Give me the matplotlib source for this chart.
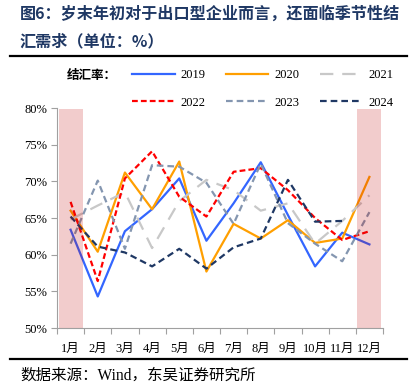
import matplotlib.pyplot as plt
import numpy as np

months = ['1月', '2月', '3月', '4月', '5月', '6月', '7月', '8月', '9月', '10月', '11月', '12月']
y2019 = [63.4, 54.3, 63.2, 66.2, 70.4, 61.9, 67.0, 72.6, 65.4, 58.4, 63.0, 61.4]
y2020 = [66.0, 60.4, 71.2, 66.2, 72.7, 57.7, 64.2, 62.2, 64.7, 61.6, 62.2, 70.6]
y2021 = [64.8, 66.7, 68.5, 60.9, 67.3, 70.2, 68.8, 66.0, 67.0, 61.5, 64.6, 68.1]
y2022 = [67.2, 56.4, 70.4, 74.1, 67.9, 65.2, 71.3, 71.8, 68.8, 65.0, 62.0, 63.2]
y2023 = [61.5, 70.1, 60.8, 72.2, 72.0, 69.8, 64.2, 72.4, 64.3, 61.5, 59.1, 65.8]
y2024 = [65.2, 61.1, 60.3, 58.4, 60.8, 58.1, 61.0, 62.2, 70.2, 64.5, 64.6, np.nan]
band_months = ['1月', '12月']
band_top = 79.8

serif = ['Liberation Serif', 'Noto Sans CJK SC']
cjk = ['Noto Sans CJK SC', 'DejaVu Sans']

fig = plt.figure(figsize=(4.13, 3.9), dpi=100)
ax = fig.add_axes([57/413, 1-328/390, 326/413, 220/390])

x = np.arange(len(months))
series = [
    ('2019', y2019, '#3366ff', '-', None),
    ('2020', y2020, '#ff9f00', '-', None),
    ('2021', y2021, '#c8c8c8', '--', (6, 4)),
    ('2022', y2022, '#ff0000', '--', (2.6, 1.4)),
    ('2023', y2023, '#8496b0', '--', (3, 1.8)),
    ('2024', y2024, '#1f3864', '--', (3, 1.8)),
]
lines = {}
for name, ys, c, ls, dash in series:
    kw = {}
    if dash:
        kw['dashes'] = dash
    lines[name], = ax.plot(x, ys, color=c, linestyle=ls, lw=1.6, label=name, zorder=2, **kw)

band_idx = [months.index(m) for m in band_months]
ax.bar(band_idx, band_top - 50, bottom=50, width=0.88, color='#c00000', alpha=0.2,
       zorder=3, lw=0)

ax.set_xlim(-0.5, len(months) - 0.5)
ax.set_ylim(50, 80)
ax.set_yticks(np.arange(50, 81, 5))
ax.set_yticklabels([f'{v}%' for v in range(50, 81, 5)], family=serif, fontsize=9)
ax.set_xticks(x)
ax.set_xticklabels(months, family=serif, fontsize=9)
ax.set_xticks(np.arange(-0.5, len(months), 1), minor=True)
ax.tick_params(axis='x', which='major', length=0, pad=11)
ax.tick_params(axis='x', which='minor', length=4, color='#a0a0a0', width=0.8)
ax.tick_params(axis='y', length=4, color='#a0a0a0', width=0.8, pad=3)
for s in ['top', 'right']:
    ax.spines[s].set_visible(False)
for s in ['left', 'bottom']:
    ax.spines[s].set_color('#a0a0a0')
    ax.spines[s].set_linewidth(0.8)

# legend fills column by column, so order the handles to read row by row
order = ['2019', '2022', '2020', '2023', '2021', '2024']
fig.legend([lines[k] for k in order], order, ncol=3, loc='center left',
           bbox_to_anchor=(132/413, 1-89/390),
           frameon=False, prop={'family': serif, 'size': 9},
           handlelength=3.4, handletextpad=0.5, columnspacing=1.6,
           labelspacing=1.2, borderpad=0, borderaxespad=0)
fig.text(67/413, 1-76/390, '结汇率：', family=cjk, fontsize=9, fontweight='bold',
         va='center', ha='left')

fig.text(20/413, 1-14/390, '图6：岁末年初对于出口型企业而言，还面临季节性结',
         family=cjk, fontsize=11.6, fontweight='bold', color='#1f3864', va='center')
fig.text(20/413, 1-41/390, '汇需求（单位：%）',
         family=cjk, fontsize=11.6, fontweight='bold', color='#1f3864', va='center')
fig.add_artist(plt.Line2D([10/413, 407/413], [1-56/390, 1-56/390], color='black', lw=1.6))
fig.add_artist(plt.Line2D([10/413, 407/413], [1-359/390, 1-359/390], color='black', lw=1.6))
fig.text(20/413, 1-376/390, '数据来源：Wind，东吴证券研究所', family=serif, fontsize=11.2,
         va='center')

fig.savefig('out.png', dpi=100)
